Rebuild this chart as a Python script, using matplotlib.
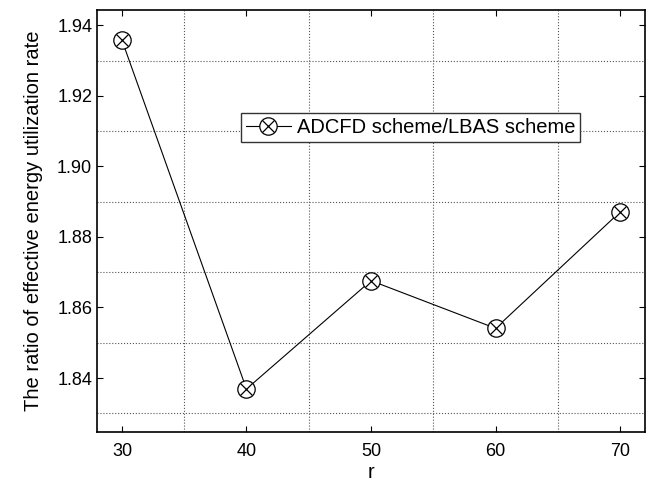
import matplotlib
matplotlib.use("Agg")
import matplotlib.pyplot as plt
from matplotlib.ticker import MultipleLocator

plt.rcParams['font.family'] = ['Liberation Sans', 'DejaVu Sans']

# 数据
r_values = [30, 40, 50, 60, 70]
ratio = [1.9358, 1.8369, 1.8676, 1.8541, 1.8871]
series_label = 'ADCFD scheme/LBAS scheme'

fig = plt.figure(figsize=(6.48, 4.82), dpi=100)
ax = fig.add_axes([0.1497, 0.1037, 0.8457, 0.8753])

ax.plot(r_values, ratio, color='black', linewidth=0.8, zorder=2)
pts_o = ax.plot(r_values, ratio, linestyle='none', marker='o', markersize=12.5,
                markerfacecolor='white', markeredgecolor='black',
                markeredgewidth=0.9, zorder=3)[0]
pts_x = ax.plot(r_values, ratio, linestyle='none', marker='x', markersize=9,
                markeredgecolor='black', markeredgewidth=0.9, zorder=4)[0]

ax.set_xlim(28, 72)
ax.set_ylim(1.8247, 1.9443)
ax.xaxis.set_major_locator(MultipleLocator(10))
ax.xaxis.set_minor_locator(MultipleLocator(5))
ax.yaxis.set_major_locator(MultipleLocator(0.02))
ax.yaxis.set_minor_locator(MultipleLocator(0.01))
ax.yaxis.set_major_formatter(matplotlib.ticker.FormatStrFormatter('%.2f'))

# 网格：次刻度位置的虚线
ax.grid(True, which='minor', linestyle=':', color='#555555', linewidth=0.8)
ax.grid(False, which='major')
ax.tick_params(which='major', direction='in', top=True, right=True,
               length=4, labelsize=13, colors='black')
ax.tick_params(axis='x', pad=8)
ax.tick_params(which='minor', length=0)
for s in ax.spines.values():
    s.set_linewidth(1.2)

ax.set_xlabel('r', fontsize=14.5, labelpad=2)
ax.set_ylabel('The ratio of effective energy utilization rate', fontsize=14.5, labelpad=10)

line_h = matplotlib.lines.Line2D([], [], color='black', linewidth=0.8)
leg = ax.legend([(line_h, pts_o, pts_x)], [series_label], loc='center',
                bbox_to_anchor=(0.5725, 0.722), fontsize=14.5, frameon=True,
                fancybox=False, edgecolor='#333333', framealpha=1,
                borderpad=0.25, handlelength=2.2, handletextpad=0.3,
                borderaxespad=0)
leg.get_frame().set_linewidth(1.0)

plt.savefig('out.png', dpi=100)
